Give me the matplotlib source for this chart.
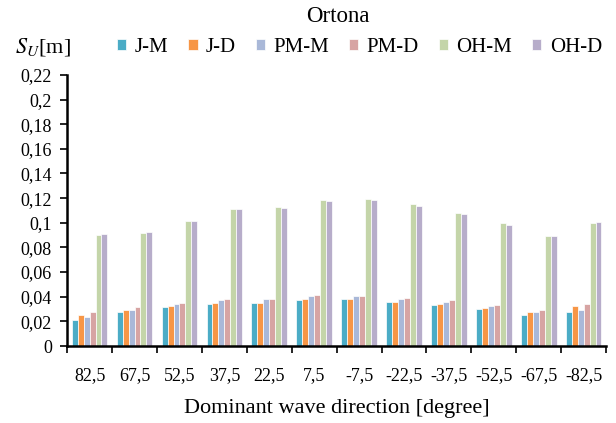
import numpy as np
import matplotlib
matplotlib.use("Agg")
import matplotlib.pyplot as plt

plt.rcParams['font.family'] = ['Liberation Serif', 'DejaVu Serif']
plt.rcParams['mathtext.fontset'] = 'stix'

# directions (degree)
directions = ['82,5', '67,5', '52,5', '37,5', '22,5', '7,5',
              '-7,5', '-22,5', '-37,5', '-52,5', '-67,5', '-82,5']

series_names = ['J-M', 'J-D', 'PM-M', 'PM-D', 'OH-M', 'OH-D']

j_m = [0.0214, 0.0274, 0.0315, 0.0341, 0.0353, 0.0371,
       0.0380, 0.0361, 0.0333, 0.0304, 0.0255, 0.0274]
j_d = [0.0255, 0.0293, 0.0325, 0.0353, 0.0353, 0.0380,
       0.0380, 0.0361, 0.0339, 0.0312, 0.0274, 0.0323]
pm_m = [0.0233, 0.0293, 0.0339, 0.0371, 0.0380, 0.0402,
        0.0407, 0.0380, 0.0361, 0.0325, 0.0274, 0.0293]
pm_d = [0.0274, 0.0315, 0.0353, 0.0380, 0.0380, 0.0410,
        0.0407, 0.0388, 0.0371, 0.0333, 0.0293, 0.0339]
oh_m = [0.0898, 0.0916, 0.1011, 0.1109, 0.1128, 0.1185,
        0.1195, 0.1150, 0.1081, 0.0995, 0.0889, 0.0995]
oh_d = [0.0908, 0.0927, 0.1011, 0.1109, 0.1120, 0.1176,
        0.1185, 0.1139, 0.1071, 0.0984, 0.0889, 0.1006]

colors = ['#4BACC6', '#F79646', '#A9B8D8', '#D7A4A3', '#C4D5A9', '#B7ADCA']

fig = plt.figure(figsize=(6.16, 4.23), dpi=100)
ax = fig.add_axes([0.109, 0.182, 0.875, 0.641])

x = np.arange(len(directions))
w = 0.132
data = [j_m, j_d, pm_m, pm_d, oh_m, oh_d]
for i, (vals, c, name) in enumerate(zip(data, colors, series_names)):
    ax.bar(x + (i - 2.5) * w, vals, w, color=c, edgecolor='white',
           linewidth=0.5, label=name)

ax.set_xlim(-0.5, len(directions) - 0.5)
ax.set_ylim(0, 0.22)
yt = np.arange(0, 0.221, 0.02)
ax.set_yticks(yt)
ax.set_yticklabels(['0' if v == 0 else ('%g' % round(v, 2)).replace('.', ',') for v in yt],
                   fontsize=13)
ax.set_xticks(x)
ax.set_xticklabels(directions, fontsize=13)
ax.set_xticks(np.arange(-0.5, len(directions)), minor=True)
ax.tick_params(axis='x', which='major', length=0, pad=15)
ax.tick_params(axis='x', which='minor', length=5, width=1.2, direction='out')
ax.tick_params(axis='y', length=5, width=1.2, direction='out', pad=6)

for s in ['top', 'right']:
    ax.spines[s].set_visible(False)
for s in ['left', 'bottom']:
    ax.spines[s].set_linewidth(1.8)

ax.set_xlabel('Dominant wave direction [degree]', fontsize=16, labelpad=11)
fig.text(0.548, 0.962, 'Ortona', ha='center', va='center', fontsize=16.5)
fig.text(0.025, 0.888, r'$S_U$[m]', ha='left', va='center', fontsize=16)

fig.legend(loc='center left', bbox_to_anchor=(0.19, 0.888), ncol=6, frameon=False,
           fontsize=15, handlelength=0.45, handleheight=0.45, handletextpad=0.4,
           columnspacing=0.95, borderaxespad=0, borderpad=0)

fig.savefig('out.png', dpi=100)
